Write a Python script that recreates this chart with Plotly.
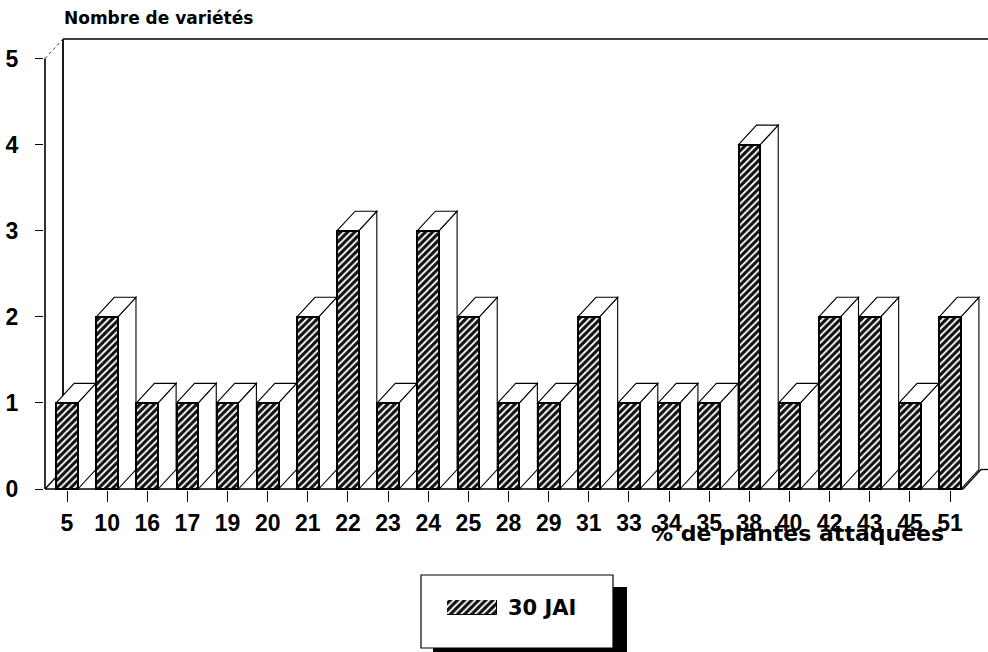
import plotly.graph_objects as go

# Percentage of attacked plants (categories) and number of varieties per class
categories = ["5", "10", "16", "17", "19", "20", "21", "22", "23", "24", "25", "28",
              "29", "31", "33", "34", "35", "38", "40", "42", "43", "45", "51"]
varieties = [1, 2, 1, 1, 1, 1, 2, 3, 1, 3, 2, 1, 1, 2, 1, 1, 1, 4, 1, 2, 2, 1, 2]
y_ticks = [0, 1, 2, 3, 4, 5]
series_name = "30 JAI"

W_PX, H_PX = 988, 652
STEP = 40.14          # pixels per category
UNIT = 86.1           # pixels per count unit
X_ZERO_PX = 67        # pixel of first category
Y_ZERO_PX = 489       # pixel of the floor
LEFT_PX, TOP_PX, BOT_PX = 44, 16, 490

BAR_W = 0.54          # front face width (category units)
DX = 18 / STEP        # depth offset, x
DY = 19.5 / UNIT      # depth offset, y
X_FRONT = (45 - X_ZERO_PX) / STEP
X_END = (963 - X_ZERO_PX) / STEP
Y_TOP = 5

x0 = (LEFT_PX - X_ZERO_PX) / STEP
x1 = x0 + (W_PX - LEFT_PX) / STEP
y0 = (Y_ZERO_PX - BOT_PX) / UNIT
y1 = y0 + (BOT_PX - TOP_PX) / UNIT

xs = list(range(len(categories)))

hatch = dict(shape="/", fgcolor="white", bgcolor="#111111", size=5, solidity=0.36)

fig = go.Figure()
fig.add_trace(go.Bar(
    x=xs, y=varieties, width=BAR_W, name=series_name,
    marker=dict(color="#111111", pattern=hatch, line=dict(color="black", width=2)),
    showlegend=False, xaxis="x", yaxis="y",
))

# legend swatch drawn with the same fill as the bars
fig.add_trace(go.Bar(
    x=[0], y=[1], width=1, showlegend=False,
    marker=dict(color="#111111", pattern=hatch, line=dict(color="black", width=1)),
    xaxis="x2", yaxis="y2",
))

line_k = dict(color="black", width=1.3)
shapes = []


def px(x):
    return x / W_PX


def py(y):
    return (H_PX - y) / H_PX


# legend box with drop shadow (drawn first so it sits under everything else)
shapes.append(dict(type="rect", xref="paper", yref="paper", x0=px(433), x1=px(627),
                   y0=py(660), y1=py(587), fillcolor="black", line=dict(width=0), layer="below"))
shapes.append(dict(type="rect", xref="paper", yref="paper", x0=px(421), x1=px(613),
                   y0=py(648), y1=py(575), fillcolor="white",
                   line=dict(color="black", width=1.2), layer="below"))

# back wall and floor outline
shapes.append(dict(type="line", xref="x", yref="y", x0=X_FRONT + DX, y0=DY,
                   x1=X_FRONT + DX, y1=Y_TOP + DY, line=dict(color="black", width=1.8), layer="below"))
shapes.append(dict(type="line", xref="x", yref="y", x0=X_FRONT + DX, y0=Y_TOP + DY,
                   x1=x1, y1=Y_TOP + DY, line=line_k, layer="below"))
shapes.append(dict(type="line", xref="x", yref="y", x0=X_FRONT, y0=Y_TOP,
                   x1=X_FRONT + DX, y1=Y_TOP + DY, line=dict(color="black", width=0.8, dash="dot"),
                   layer="below"))
shapes.append(dict(type="line", xref="x", yref="y", x0=X_FRONT, y0=0, x1=X_FRONT, y1=Y_TOP,
                   line=dict(color="black", width=1.6), layer="below"))
shapes.append(dict(type="line", xref="x", yref="y", x0=X_FRONT, y0=0, x1=X_FRONT + DX, y1=DY,
                   line=line_k, layer="below"))
shapes.append(dict(type="line", xref="x", yref="y", x0=X_END, y0=0, x1=X_END + DX, y1=DY,
                   line=line_k, layer="below"))
shapes.append(dict(type="line", xref="x", yref="y", x0=X_END + DX, y0=DY, x1=x1, y1=DY,
                   line=line_k, layer="below"))

# side and top faces of each bar
for i, v in zip(xs, varieties):
    xl = i - BAR_W / 2
    xr = i + BAR_W / 2
    side = (f"M {xr},0 L {xr},{v} L {xr + DX},{v + DY} L {xr + DX},{DY} Z")
    top = (f"M {xl},{v} L {xl + DX},{v + DY} L {xr + DX},{v + DY} L {xr},{v} Z")
    for p in (side, top):
        shapes.append(dict(type="path", xref="x", yref="y", path=p,
                           fillcolor="white", line=dict(color="black", width=1.1), layer="below"))

# floor front edge
shapes.append(dict(type="line", xref="x", yref="y", x0=X_FRONT, y0=0, x1=X_END, y1=0,
                   line=dict(color="black", width=1.6), layer="above"))

annotations = [
    dict(text="Nombre de variétés", xref="paper", yref="paper", x=px(62), y=py(18),
         xanchor="left", yanchor="middle", showarrow=False,
         font=dict(family="DejaVu Sans", size=17, color="black", weight="bold")),
    dict(text="% de plantes attaquées", xref="paper", yref="paper", x=px(946), y=py(533),
         xanchor="right", yanchor="middle", showarrow=False,
         font=dict(family="DejaVu Sans", size=22, color="black", weight="bold")),
    dict(text=series_name, xref="paper", yref="paper", x=px(506), y=py(608),
         xanchor="left", yanchor="middle", showarrow=False,
         font=dict(family="DejaVu Sans", size=21, color="black", weight="bold")),
]

tick_font = dict(family="Liberation Sans", size=23, color="black", weight="bold")

fig.update_layout(
    template="none",
    width=W_PX, height=H_PX,
    margin=dict(l=0, r=0, t=0, b=0),
    paper_bgcolor="white", plot_bgcolor="rgba(0,0,0,0)",
    showlegend=False,
    bargap=0,
    xaxis=dict(domain=[px(LEFT_PX), 1], range=[x0, x1], tickmode="array",
               tickvals=xs, ticktext=categories, ticks="outside", ticklen=11,
               tickwidth=1.3, tickcolor="black", showgrid=False, zeroline=False,
               showline=False, tickfont=tick_font, ticklabelstandoff=1,
               automargin=False, fixedrange=True),
    yaxis=dict(domain=[py(BOT_PX), py(TOP_PX)], range=[y0, y1], tickmode="array",
               tickvals=y_ticks, ticktext=[str(t) for t in y_ticks], ticks="outside",
               ticklen=8, tickwidth=1.3, tickcolor="black", showgrid=False,
               zeroline=False, showline=False, tickfont=tick_font,
               ticklabelstandoff=12, automargin=False, fixedrange=True),
    xaxis2=dict(domain=[px(447), px(497)], range=[-0.5, 0.5], visible=False,
                anchor="y2", fixedrange=True),
    yaxis2=dict(domain=[py(615), py(600)], range=[0, 1], visible=False,
                anchor="x2", fixedrange=True),
    shapes=shapes,
    annotations=annotations,
)

fig.write_html("out.html")
